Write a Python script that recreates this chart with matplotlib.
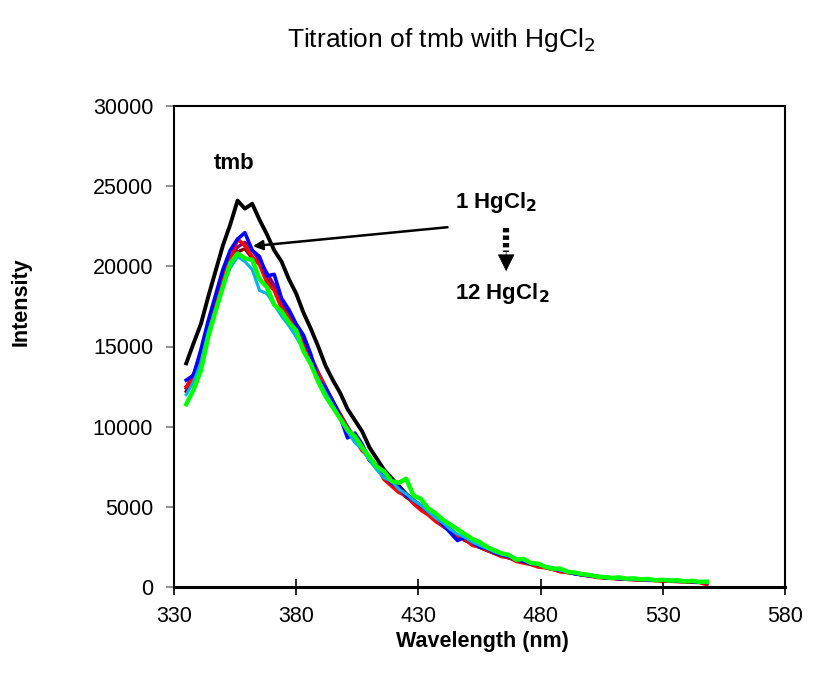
import matplotlib
matplotlib.use("Agg")
import matplotlib.pyplot as plt
import numpy as np

plt.rcParams['font.family'] = ['Liberation Sans', 'DejaVu Sans']

# wavelength grid (nm), read every 3 nm off the picture
wavelength = np.arange(335, 549, 3)

tmb = [13950, 15200, 16400, 18100, 19700, 21300, 22600, 24100, 23600, 23900,
       22900, 22000, 21000, 20300, 19200, 18300, 17100, 16100, 15000, 13800,
       12900, 12100, 11100, 10400, 9700, 8700, 8000, 7300, 6800, 6300,
       5800, 5400, 5000, 4600, 4300, 3900, 3600, 3200, 3000, 2700,
       2500, 2300, 2150, 2000, 1850, 1700, 1600, 1450, 1350, 1250,
       1150, 1050, 950, 870, 800, 720, 660, 610, 570, 540,
       510, 490, 470, 450, 430, 410, 390, 370, 350, 330, 310, 300]

hg_blue = [12900, 13200, 14800, 16600, 18200, 19800, 21000, 21700, 22100, 21000,
           20600, 19400, 19500, 18000, 17300, 16400, 15700, 14500, 12900, 12400,
           11600, 10600, 9300, 9600, 8900, 7900, 7600, 6900, 6500, 6200,
           5700, 5400, 5100, 4700, 4400, 3900, 3400, 2900, 3100, 2800,
           2500, 2400, 2150, 2000, 1900, 1700, 1600, 1450, 1400, 1250,
           1150, 1050, 950, 820, 760, 700, 650, 580, 560, 520,
           500, 520, 460, 450, 430, 420, 400, 380, 360, 330, 300, 280]

hg_red = [12500, 13100, 14300, 16100, 17900, 19400, 20300, 21700, 21300, 20600,
          20100, 19000, 18500, 17400, 16800, 16000, 15000, 14100, 13300, 12300,
          11400, 10700, 9900, 9200, 8500, 8100, 7500, 6700, 6300, 5900,
          5700, 5200, 4800, 4500, 4100, 3800, 3500, 3100, 3000, 2600,
          2500, 2300, 2100, 1900, 1850, 1600, 1500, 1400, 1250, 1200,
          1100, 950, 900, 850, 750, 680, 600, 560, 540, 500,
          480, 450, 430, 420, 400, 380, 360, 340, 320, 300, 280, 150]

hg_maroon = [12200, 13000, 14600, 16000, 17500, 19000, 20100, 20900, 21100, 20500,
             20300, 19200, 18600, 17700, 16700, 16200, 15100, 14200, 13100, 12300,
             11300, 10600, 9800, 9300, 8700, 7900, 7400, 6900, 6400, 6000,
             5600, 5300, 4900, 4600, 4200, 3800, 3500, 3200, 2900, 2700,
             2500, 2300, 2100, 1950, 1800, 1700, 1550, 1450, 1300, 1200,
             1100, 1000, 900, 830, 750, 700, 640, 600, 560, 520,
             500, 470, 450, 430, 410, 400, 380, 360, 340, 320, 300, 290]

hg_purple = [12400, 13300, 14500, 16300, 17800, 19300, 20500, 21200, 21500, 21000,
             20400, 19600, 18800, 17900, 17000, 16300, 15300, 14400, 13400, 12500,
             11600, 10800, 10000, 9300, 8700, 8000, 7500, 7000, 6500, 6100,
             5700, 5300, 4900, 4600, 4200, 3900, 3500, 3200, 3000, 2700,
             2500, 2300, 2150, 1980, 1850, 1700, 1580, 1450, 1320, 1220,
             1120, 1020, 930, 850, 780, 710, 650, 600, 560, 530,
             500, 480, 460, 440, 420, 400, 380, 360, 340, 320, 300, 280]

hg_cyan = [12000, 12800, 14000, 15900, 17300, 18800, 19900, 20600, 20300, 19800,
           18500, 18300, 17600, 16900, 16300, 15600, 14800, 13900, 13000, 12100,
           11300, 10500, 9700, 9000, 8600, 7900, 7300, 6800, 6600, 6100,
           5800, 5400, 5100, 4700, 4300, 4000, 3600, 3300, 3100, 2800,
           2600, 2400, 2200, 2050, 1950, 1800, 1700, 1500, 1400, 1300,
           1150, 1050, 980, 880, 800, 730, 660, 620, 580, 540,
           520, 500, 470, 450, 430, 420, 400, 380, 370, 350, 330, 320]

hg_green = [11400, 12300, 13500, 15600, 17200, 18700, 20200, 20800, 20500, 20400,
            19200, 18700, 17600, 17200, 16500, 16000, 14700, 13900, 12800, 11900,
            11200, 10500, 9800, 9400, 8700, 8100, 7500, 7200, 6600, 6500,
            6750, 5700, 5500, 4900, 4600, 4200, 3900, 3600, 3300, 3000,
            2800, 2500, 2300, 2100, 2000, 1700, 1750, 1500, 1450, 1250,
            1150, 1150, 950, 900, 800, 750, 650, 620, 560, 600,
            520, 540, 480, 500, 420, 450, 400, 420, 350, 380, 320, 330]

series = [
    (tmb, 'black', 2.8),
    (hg_maroon, '#800000', 2.4),
    (hg_purple, '#800080', 2.4),
    (hg_red, '#ff0000', 2.6),
    (hg_blue, '#0000ff', 2.6),
    (hg_cyan, '#00b0f0', 2.2),
    (hg_green, '#00ff00', 3.2),
]

fig = plt.figure(figsize=(8.14, 6.81), dpi=100)
ax = fig.add_axes([174/814, 1-587/681, 611/814, 481/681])

for vals, col, lw in series:
    ax.plot(wavelength, vals, color=col, lw=lw, solid_joinstyle='round')

ax.set_xlim(330, 580)
ax.set_ylim(0, 30000)
ax.set_xticks(np.arange(330, 581, 50))
ax.set_yticks(np.arange(0, 30001, 5000))
ax.tick_params(axis='x', direction='inout', length=12, width=1.2, color='black',
               labelsize=15.5, pad=8)
ax.tick_params(axis='y', direction='out', length=6, width=1.2, color='#808080',
               labelsize=15.5, pad=9)
for s in ax.spines.values():
    s.set_linewidth(1.5)
ax.spines['bottom'].set_linewidth(2.2)

# labels
fig.text(441/814, 1-47/681, 'Titration of tmb with HgCl$_2$', ha='center',
         va='baseline', fontsize=19)
fig.text(482/814, 1-642/681, 'Wavelength (nm)', ha='center', va='center',
         fontsize=15.5, fontweight='bold')
fig.text(21/814, 1-302/681, 'Intensity', ha='center', va='center',
         rotation=90, fontsize=15.5, fontweight='bold')

# annotations
ax.text(354.5, 26400, 'tmb', ha='center', va='center', fontsize=16,
        fontweight='bold')
ax.text(445, 24000, '1 HgCl$_\\mathbf{2}$', ha='left', va='center', fontsize=16,
        fontweight='bold')
ax.text(445, 18300, '12 HgCl$_\\mathbf{2}$', ha='left', va='center', fontsize=16,
        fontweight='bold')
ax.annotate('', xy=(362.3, 21260), xytext=(441.9, 22440),
            arrowprops=dict(arrowstyle='-|>', color='black', lw=1.8,
                            mutation_scale=14, shrinkA=0, shrinkB=0))
ax.plot([465.9, 465.9], [22400, 20900], color='black', lw=4.5,
        linestyle=(0, (0.7, 0.5)), solid_capstyle='butt')
ax.annotate('', xy=(465.9, 19700), xytext=(465.9, 20950),
            arrowprops=dict(arrowstyle='-|>', color='black', lw=0.5,
                            mutation_scale=28, shrinkA=0, shrinkB=0))

fig.savefig('out.png', dpi=100)
